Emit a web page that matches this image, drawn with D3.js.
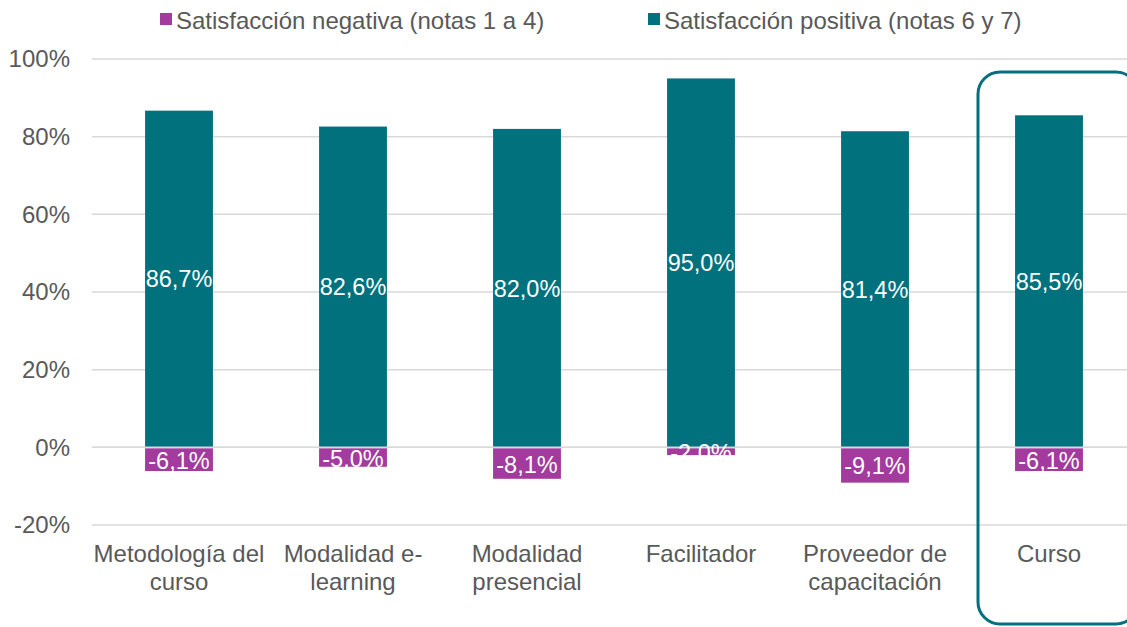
<!DOCTYPE html>
<html>
<head>
<meta charset="utf-8">
<script src="https://cdn.jsdelivr.net/npm/d3@7"></script>
<style>
  body { margin: 0; background: #fff; }
  svg { font-family: "Liberation Sans", Arial, sans-serif; }
</style>
</head>
<body>
<svg width="1127" height="627"></svg>
<script>
const categories = [
  ["Metodología del", "curso"],
  ["Modalidad e-", "learning"],
  ["Modalidad", "presencial"],
  ["Facilitador"],
  ["Proveedor de", "capacitación"],
  ["Curso"]
]
const positive = [86.7, 82.6, 82.0, 95.0, 81.4, 85.5]
const negative = [-6.1, -5.0, -8.1, -2.0, -9.1, -6.1]
const yTicks = [-20, 0, 20, 40, 60, 80, 100]
const legendLabels = ["Satisfacción negativa (notas 1 a 4)", "Satisfacción positiva (notas 6 y 7)"]

const teal = "#00717d"
const magenta = "#a23b9d"
const grey = "#595959"
const fontSize = 24

const svg = d3.select("svg")
const idx = d3.range(categories.length)

const x = d3.scaleBand().domain(idx).range([92, 1136]).paddingInner(0.61).paddingOuter(0.305)
const y = d3.scaleLinear().domain([-20, 100]).range([525, 59])

const fmt = v => (v < 0 ? "-" : "") + d3.format(".1f")(Math.abs(v)).replace(".", ",") + "%"

// gridlines
svg.append("g").selectAll("line")
  .data(yTicks)
  .enter().append("line")
    .attr("x1", 92).attr("x2", 1127)
    .attr("y1", d => y(d)).attr("y2", d => y(d))
    .attr("stroke", "#d9d9d9").attr("stroke-width", 1.5)

// y axis labels
const yAxis = svg.append("g")
  .attr("transform", "translate(84,0)")
  .call(d3.axisLeft(y).tickValues(yTicks).tickSize(0).tickPadding(14).tickFormat(d => d + "%"))
yAxis.select(".domain").remove()
yAxis.selectAll("text").attr("fill", grey).attr("font-size", fontSize).attr("font-family", "Liberation Sans, Arial, sans-serif")

// bars
svg.append("g").selectAll("rect")
  .data(idx)
  .enter().append("rect")
    .attr("x", i => x(i))
    .attr("width", x.bandwidth())
    .attr("y", i => y(positive[i]))
    .attr("height", i => y(0) - y(positive[i]))
    .attr("fill", teal)

svg.append("g").selectAll("rect")
  .data(idx)
  .enter().append("rect")
    .attr("x", i => x(i))
    .attr("width", x.bandwidth())
    .attr("y", y(0) + 1)
    .attr("height", i => y(negative[i]) - y(0) - 1)
    .attr("fill", magenta)

// zero line over bars
svg.append("line")
  .attr("x1", 92).attr("x2", 1127)
  .attr("y1", y(0)).attr("y2", y(0))
  .attr("stroke", "#d9d9d9").attr("stroke-width", 1.5)

// value labels
svg.append("g").selectAll("text")
  .data(idx)
  .enter().append("text")
    .attr("x", i => x(i) + x.bandwidth() / 2)
    .attr("y", i => (y(positive[i]) + y(0)) / 2)
    .attr("dy", "0.36em")
    .attr("text-anchor", "middle")
    .attr("fill", "#fff")
    .attr("font-size", 23.5)
    .text(i => fmt(positive[i]))

svg.append("g").selectAll("text")
  .data(idx)
  .enter().append("text")
    .attr("x", i => x(i) + x.bandwidth() / 2)
    .attr("y", i => (y(negative[i]) + y(0)) / 2 + 1)
    .attr("dy", "0.36em")
    .attr("text-anchor", "middle")
    .attr("fill", "#fff")
    .attr("font-size", 23.5)
    .text(i => fmt(negative[i]))

// category labels
svg.append("g").selectAll("text")
  .data(idx)
  .enter().append("text")
    .attr("x", i => x(i) + x.bandwidth() / 2)
    .attr("y", 562)
    .attr("text-anchor", "middle")
    .attr("fill", grey)
    .attr("font-size", fontSize)
    .each(function(i) {
      d3.select(this).selectAll("tspan")
        .data(categories[i])
        .enter().append("tspan")
          .attr("x", x(i) + x.bandwidth() / 2)
          .attr("dy", (d, k) => k === 0 ? 0 : 28)
          .text(d => d)
    })

// highlight box around last category
svg.append("rect")
  .attr("x", 978).attr("y", 72)
  .attr("width", 160).attr("height", 552)
  .attr("rx", 22)
  .attr("fill", "none")
  .attr("stroke", teal)
  .attr("stroke-width", 3)

// legend
const legend = svg.append("g")
const legendX = [160, 648]
const legendColors = [magenta, teal]
legendLabels.forEach((t, k) => {
  legend.append("rect")
    .attr("x", legendX[k]).attr("y", 13)
    .attr("width", 12).attr("height", 12)
    .attr("fill", legendColors[k])
  legend.append("text")
    .attr("x", legendX[k] + 16).attr("y", 29)
    .attr("fill", grey)
    .attr("font-size", fontSize)
    .text(t)
})
</script>
</body>
</html>
